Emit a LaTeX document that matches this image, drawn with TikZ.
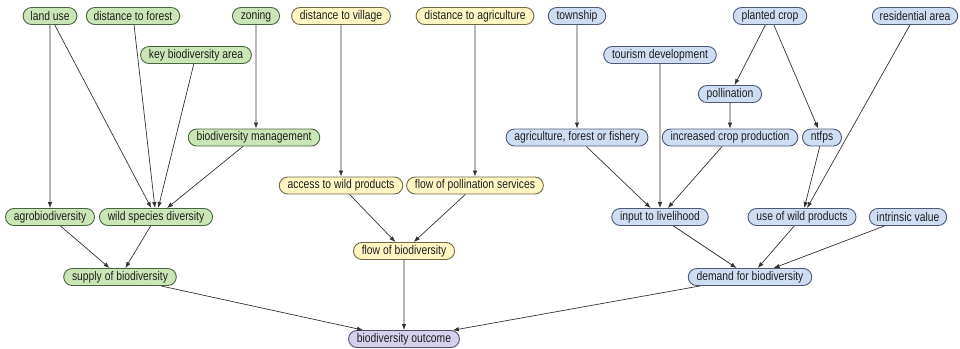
\documentclass[tikz,border=0pt]{standalone}
\usepackage{fontspec}
\setmainfont{Liberation Sans}[FakeStretch=0.82]
\usetikzlibrary{arrows.meta,shapes.misc}

\definecolor{gfill}{HTML}{CBE6B6}
\definecolor{gdraw}{HTML}{4A6340}
\definecolor{yfill}{HTML}{FFF6C4}
\definecolor{ydraw}{HTML}{6E6845}
\definecolor{bfill}{HTML}{CFDDF2}
\definecolor{bdraw}{HTML}{4E5A74}
\definecolor{pfill}{HTML}{D5D0EC}
\definecolor{pdraw}{HTML}{574E6E}
\definecolor{edgecol}{HTML}{333333}
\definecolor{txt}{HTML}{1E1E1E}

\tikzset{
  var/.style={rounded rectangle, draw, line width=0.9bp, minimum height=17bp,
    inner xsep=6bp, inner ysep=0bp, text=txt,
    font=\fontsize{12.6bp}{13bp}\selectfont},
  green/.style={var, fill=gfill, draw=gdraw},
  yellow/.style={var, fill=yfill, draw=ydraw},
  blue/.style={var, fill=bfill, draw=bdraw},
  purple/.style={var, fill=pfill, draw=pdraw},
  link/.style={draw=edgecol, line width=0.7bp,
    -{Latex[length=6bp,width=4.5bp]}}
}

\begin{document}
\begin{tikzpicture}[x=1bp,y=-1bp]
\useasboundingbox (0,0) rectangle (960,348);

% supply side
\node[green] (landuse)  at (50,16)   {land use};
\node[green] (distfor)  at (133,16)  {distance to forest};
\node[green] (zoning)   at (256,16)  {zoning};
\node[green] (kba)      at (196,55)  {key biodiversity area};
\node[green] (mgmt)     at (254,137.5) {biodiversity management};
\node[green] (agro)     at (50,217)  {agrobiodiversity};
\node[green] (wild)     at (156,217) {wild species diversity};
\node[green] (supply)   at (120,277) {supply of biodiversity};

% flow side
\node[yellow] (distvil) at (341,16)  {distance to village};
\node[yellow] (distagr) at (475,16)  {distance to agriculture};
\node[yellow] (access)  at (341,185.5) {access to wild products};
\node[yellow] (pollsrv) at (475,185.5) {flow of pollination services};
\node[yellow] (flow)    at (404,251) {flow of biodiversity};

% demand side
\node[blue] (township)  at (577,16)  {township};
\node[blue] (planted)   at (770,16)  {planted crop};
\node[blue] (resid)     at (915,16)  {residential area};
\node[blue] (tourism)   at (660,55)  {tourism development};
\node[blue] (pollin)    at (730,94)  {pollination};
\node[blue] (afs)       at (577,137.5) {agriculture, forest or fishery};
\node[blue] (crop)      at (730,137.5) {increased crop production};
\node[blue] (ntfps)     at (822,137.5) {ntfps};
\node[blue] (input)     at (660,217) {input to livelihood};
\node[blue] (usewild)   at (802,217) {use of wild products};
\node[blue] (intrinsic) at (908,217) {intrinsic value};
\node[blue] (demand)    at (750,277) {demand for biodiversity};

% outcome
\node[purple] (outcome) at (404,339) {biodiversity outcome};

% supply links
\draw[link] (landuse) -- (agro);
\draw[link] (landuse) -- (wild);
\draw[link] (distfor) -- (wild);
\draw[link] (kba) -- (wild);
\draw[link] (zoning) -- (zoning |- mgmt.north);
\draw[link] (mgmt) -- (wild);
\draw[link] (agro) -- (supply);
\draw[link] (wild) -- (supply);
\draw[link] (supply) -- (outcome);

% flow links
\draw[link] (distvil) -- (access);
\draw[link] (distagr) -- (pollsrv);
\draw[link] (access) -- (flow);
\draw[link] (pollsrv) -- (flow);
\draw[link] (flow) -- (outcome);

% demand links
\draw[link] (township) -- (afs);
\draw[link] (tourism) -- (input);
\draw[link] (planted) -- (pollin);
\draw[link] (planted) -- (ntfps);
\draw[link] (resid) -- (usewild);
\draw[link] (pollin) -- (crop);
\draw[link] (afs) -- (input);
\draw[link] (crop) -- (input);
\draw[link] (ntfps) -- (usewild);
\draw[link] (input) -- (demand);
\draw[link] (usewild) -- (demand);
\draw[link] (intrinsic) -- (demand);
\draw[link] (demand) -- (outcome);
\end{tikzpicture}
\end{document}
